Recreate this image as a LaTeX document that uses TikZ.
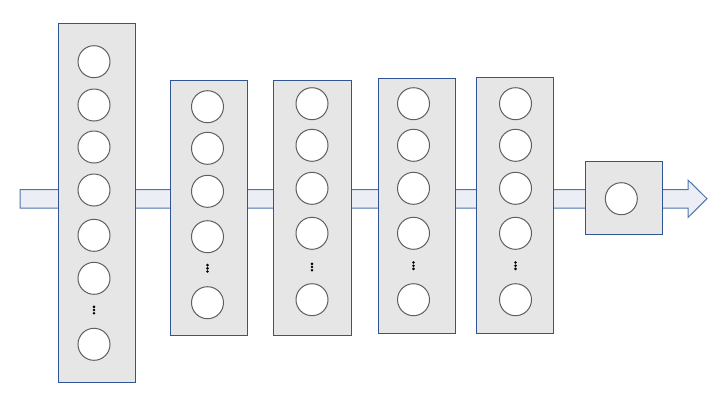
\documentclass[tikz,border=0pt]{standalone}
\definecolor{boxfill}{HTML}{E6E6E6}
\definecolor{boxline}{HTML}{2F5597}
\definecolor{arrfill}{HTML}{EBEFF5}
\definecolor{arrline}{HTML}{4F74AE}
\definecolor{cirline}{HTML}{5F5F5F}
\tikzset{
  layerbox/.style={draw=boxline, fill=boxfill, line width=1.1pt, inner sep=0pt, anchor=north west},
  neuron/.style={circle, draw=cirline, fill=white, line width=1pt, minimum size=32pt, inner sep=0pt},
  vdot/.style={circle, fill=black, minimum size=2.9pt, inner sep=0pt}
}
\newcommand{\vdotsat}[2]{%
  \node[vdot] at (#1,#2-3.2) {};
  \node[vdot] at (#1,#2) {};
  \node[vdot] at (#1,#2+3.2) {};}
\begin{document}
\begin{tikzpicture}[x=1pt,y=-1pt]
\useasboundingbox (0,0) rectangle (720,405);
% block arrow
\draw[draw=arrline, fill=arrfill, line width=1pt, line join=miter]
  (20,189.5) -- (688,189.5) -- (688,180) -- (707,198.7) -- (688,217.5) -- (688,208) -- (20,208) -- cycle;
% boxes
\node[layerbox, minimum width=77pt, minimum height=359pt] (L1) at (58,23) {};
\node[layerbox, minimum width=77pt, minimum height=255pt] (L2) at (170,80) {};
\node[layerbox, minimum width=78pt, minimum height=255pt] (L3) at (273,80) {};
\node[layerbox, minimum width=77pt, minimum height=255pt] (L4) at (378,78) {};
\node[layerbox, minimum width=77pt, minimum height=256pt] (L5) at (476,77) {};
\node[layerbox, minimum width=77pt, minimum height=73pt] (L6) at (585,161) {};
% layer 1
\foreach \y [count=\i] in {61.7,105,147,190,235.3,278.3,344.3}
  \node[neuron] (a\i) at (94,\y) {};
\vdotsat{94}{310}
% layer 2
\foreach \y [count=\i] in {106.7,148.3,191.3,236.7,302.7}
  \node[neuron] (b\i) at (207.5,\y) {};
\vdotsat{207.5}{268.3}
% layer 3
\foreach \y [count=\i] in {103.7,145.3,188.3,233.3,299.7}
  \node[neuron] (c\i) at (312,\y) {};
\vdotsat{312}{267}
% layer 4
\foreach \y [count=\i] in {103.7,145.3,188.3,233.3,299.7}
  \node[neuron] (d\i) at (413.5,\y) {};
\vdotsat{413.5}{265.7}
% layer 5
\foreach \y [count=\i] in {103.7,145.3,188.3,233.3,299.7}
  \node[neuron] (e\i) at (515.5,\y) {};
\vdotsat{515.5}{265.7}
% output
\node[neuron] (f1) at (621.3,198.7) {};
\end{tikzpicture}
\end{document}
